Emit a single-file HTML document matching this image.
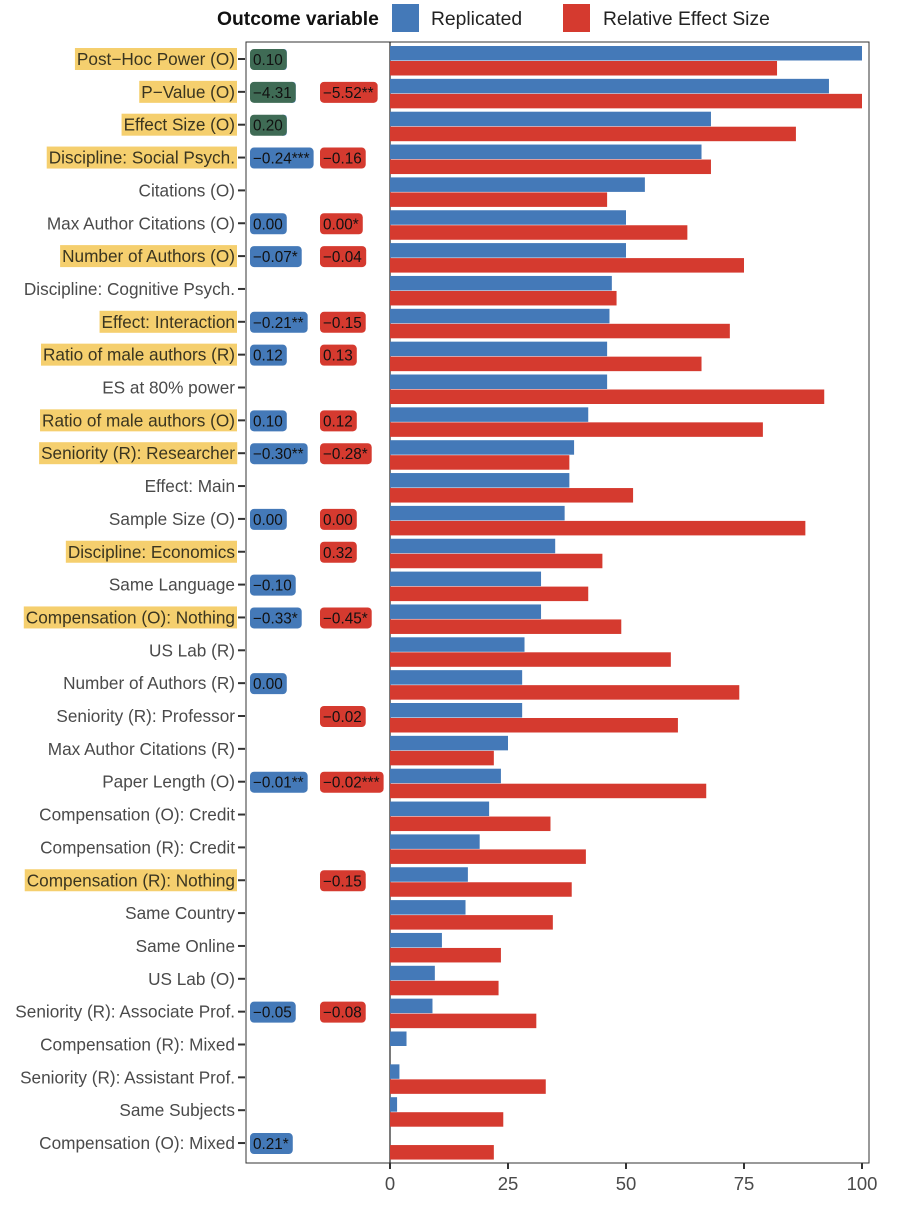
<!DOCTYPE html>
<html><head><meta charset="utf-8"><style>
body{margin:0;background:#fff;width:904px;height:1200px;overflow:hidden}
svg{font-family:"Liberation Sans",sans-serif}
</style></head><body>
<svg id="c" width="904" height="1200"></svg>
<script>
const categories=["Post\u2212Hoc Power (O)","P\u2212Value (O)","Effect Size (O)","Discipline: Social Psych.","Citations (O)","Max Author Citations (O)","Number of Authors (O)","Discipline: Cognitive Psych.","Effect: Interaction","Ratio of male authors (R)","ES at 80% power","Ratio of male authors (O)","Seniority (R): Researcher","Effect: Main","Sample Size (O)","Discipline: Economics","Same Language","Compensation (O): Nothing","US Lab (R)","Number of Authors (R)","Seniority (R): Professor","Max Author Citations (R)","Paper Length (O)","Compensation (O): Credit","Compensation (R): Credit","Compensation (R): Nothing","Same Country","Same Online","US Lab (O)","Seniority (R): Associate Prof.","Compensation (R): Mixed","Seniority (R): Assistant Prof.","Same Subjects","Compensation (O): Mixed"];
const replicated=[100,93,68,66,54,50,50,47,46.5,46,46,42,39,38,37,35,32,32,28.5,28,28,25,23.5,21,19,16.5,16,11,9.5,9,3.5,2,1.5,0];
const effectSize=[82,100,86,68,46,63,75,48,72,66,92,79,38,51.5,88,45,42,49,59.5,74,61,22,67,34,41.5,38.5,34.5,23.5,23,31,0,33,24,22];
const highlighted=[1,1,1,1,0,0,1,0,1,1,0,1,1,0,0,1,0,1,0,0,0,0,0,0,0,1,0,0,0,0,0,0,0,0];
const blueLabels=["0.10","\u22124.31","0.20","\u22120.24***","","0.00","\u22120.07*","","\u22120.21**","0.12","","0.10","\u22120.30**","","0.00","","\u22120.10","\u22120.33*","","0.00","","","\u22120.01**","","","","","","","\u22120.05","","","","0.21*"];
const redLabels=["","\u22125.52**","","\u22120.16","","0.00*","\u22120.04","","\u22120.15","0.13","","0.12","\u22120.28*","","0.00","0.32","","\u22120.45*","","","\u22120.02","","\u22120.02***","","","\u22120.15","","","","\u22120.08","","","",""];
const xTicks=[0,25,50,75,100];
const NS="http://www.w3.org/2000/svg";
const svg=document.getElementById('c');
function mk(t,a,p){const e=document.createElementNS(NS,t);for(const k in a)e.setAttribute(k,a[k]);(p||svg).appendChild(e);return e;}
const x0=390,x1=862;
const xs=v=>x0+(x1-x0)*v/100;
const rowY=i=>59+i*32.85;
const panel=mk('rect',{x:246,y:42,width:623,height:1121,fill:'#fff',stroke:'#333','stroke-width':1});


const zl=mk('line',{x1:x0,x2:x0,y1:42,y2:1163,stroke:'#222','stroke-width':1.2});


categories.forEach((c,i)=>{
  const y=rowY(i);
  const g=mk('g',{});
  
  
  const b=mk('rect',{x:x0,y:y-13,width:Math.max(0,xs(replicated[i])-x0),height:14.5,fill:'#4479b8'},g);
  
  
  const r=mk('rect',{x:x0,y:y+2,width:Math.max(0,xs(effectSize[i])-x0),height:14.5,fill:'#d53a2f'},g);
  
  
  const t=mk('text',{x:235,y:y+6,'text-anchor':'end','font-size':17.2,fill:highlighted[i]?'#3a3520':'#4a4a4a'},g);
  t.textContent=c;
  
  
  if(highlighted[i]){const bb=t.getBBox();const h=mk('rect',{x:bb.x-2,y:y-11,width:bb.width+4,height:22,fill:'#f5cf6e'},g);g.insertBefore(h,t);
    
    }
  const tk=mk('line',{x1:238,x2:245,y1:y,y2:y,stroke:'#333','stroke-width':2},g);
  
  
  [[blueLabels[i],250,i<3?'#3f6b55':'#4479b8'],[redLabels[i],320,'#d53a2f']].forEach(([s,lx,col])=>{
    if(!s)return;
    const tt=mk('text',{x:lx+3,y:y+6,'font-size':15.3,fill:'#111'},g);tt.textContent=s;
    const w=tt.getBBox().width;
    const bx=mk('rect',{x:lx,y:y-10,width:w+7,height:21,rx:4,fill:col},g);g.insertBefore(bx,tt);
    if(i<3&&lx===250){const ex=mk('rect',{x:lx+w,y:y-10,width:7,height:21,rx:3,fill:'#4479b8'},g);g.insertBefore(ex,bx);}
    
    
    
    
  });
});
xTicks.forEach(v=>{
  const l=mk('line',{x1:xs(v),x2:xs(v),y1:1163,y2:1169,stroke:'#333','stroke-width':2});
  
  
  const t=mk('text',{x:xs(v),y:1190,'text-anchor':'middle','font-size':18.5,fill:'#4a4a4a'});t.textContent=v;
  
  
});
const lg=mk('g',{});


const lt=mk('text',{x:217,y:25,'font-size':19.3,'font-weight':'bold',fill:'#111'},lg);lt.textContent='Outcome variable';
const s1=mk('rect',{x:392,y:4,width:27,height:28,fill:'#4479b8'},lg);


const t1=mk('text',{x:431,y:25,'font-size':19.3,fill:'#222'},lg);t1.textContent='Replicated';
const s2=mk('rect',{x:563,y:4,width:27,height:28,fill:'#d53a2f'},lg);


const t2=mk('text',{x:603,y:25,'font-size':19.3,fill:'#222'},lg);t2.textContent='Relative Effect Size';
</script>
</body></html>
